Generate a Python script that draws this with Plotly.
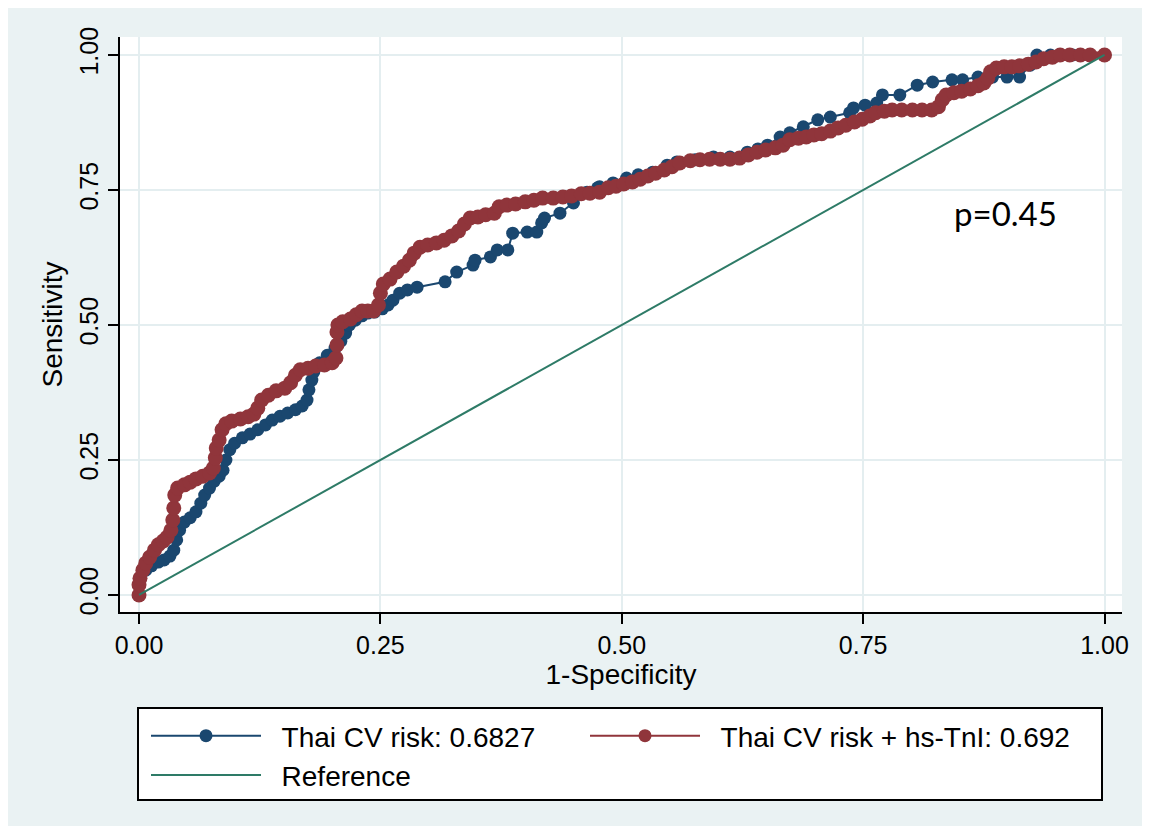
import plotly.graph_objects as go

# ---- data ----
fpr_thai = [0, 0.001, 0.007, 0.013, 0.020, 0.026, 0.032, 0.036, 0.039, 0.042,
            0.047, 0.053, 0.059, 0.064, 0.068, 0.073, 0.078, 0.083, 0.087, 0.090,
            0.094, 0.099, 0.107, 0.115, 0.123, 0.131, 0.138, 0.146, 0.154, 0.162,
            0.169, 0.174, 0.176, 0.179, 0.181, 0.187, 0.195, 0.203, 0.209, 0.214,
            0.218, 0.224, 0.231, 0.237, 0.244, 0.252, 0.258, 0.263, 0.270, 0.278,
            0.288, 0.317, 0.329, 0.346, 0.348, 0.364, 0.371, 0.382, 0.387, 0.402,
            0.412, 0.417, 0.420, 0.436, 0.450, 0.464, 0.475, 0.477, 0.491, 0.505,
            0.517, 0.532, 0.547, 0.557, 0.576, 0.595, 0.612, 0.630, 0.641, 0.651,
            0.664, 0.674, 0.688, 0.703, 0.716, 0.736, 0.740, 0.752, 0.764, 0.770,
            0.788, 0.806, 0.822, 0.842, 0.853, 0.869, 0.884, 0.899, 0.912, 0.923,
            0.930, 0.944, 0.955, 0.967, 0.985, 1.0]
tpr_thai = [0, 0.028, 0.046, 0.054, 0.061, 0.065, 0.072, 0.083, 0.102, 0.120,
            0.135, 0.143, 0.154, 0.170, 0.185, 0.198, 0.211, 0.220, 0.231, 0.250,
            0.269, 0.281, 0.291, 0.298, 0.306, 0.315, 0.324, 0.331, 0.337, 0.343,
            0.350, 0.361, 0.380, 0.398, 0.413, 0.430, 0.444, 0.457, 0.470, 0.485,
            0.500, 0.509, 0.517, 0.522, 0.524, 0.530, 0.537, 0.546, 0.559, 0.565,
            0.570, 0.580, 0.598, 0.611, 0.620, 0.626, 0.639, 0.639, 0.670, 0.672,
            0.672, 0.689, 0.698, 0.707, 0.726, 0.746, 0.754, 0.756, 0.763, 0.772,
            0.778, 0.783, 0.796, 0.802, 0.806, 0.811, 0.811, 0.820, 0.826, 0.833,
            0.848, 0.856, 0.867, 0.880, 0.885, 0.893, 0.902, 0.907, 0.911, 0.926,
            0.926, 0.944, 0.950, 0.954, 0.954, 0.959, 0.959, 0.959, 0.959, 0.981,
            1.0, 1.0, 1.0, 1.0, 1.0, 1.0]

fpr_combo = [0, 0, 0.001, 0.004, 0.007, 0.011, 0.016, 0.020, 0.025, 0.029,
             0.033, 0.035, 0.036, 0.037, 0.040, 0.047, 0.053, 0.059, 0.066, 0.073,
             0.077, 0.079, 0.080, 0.083, 0.086, 0.090, 0.096, 0.105, 0.113, 0.119,
             0.123, 0.127, 0.134, 0.142, 0.151, 0.157, 0.162, 0.167, 0.175, 0.183,
             0.192, 0.200, 0.204, 0.205, 0.205, 0.206, 0.211, 0.219, 0.225, 0.231,
             0.237, 0.243, 0.248, 0.250, 0.253, 0.260, 0.267, 0.274, 0.280, 0.285,
             0.291, 0.299, 0.308, 0.316, 0.324, 0.331, 0.337, 0.343, 0.351, 0.359,
             0.368, 0.373, 0.381, 0.390, 0.400, 0.409, 0.418, 0.429, 0.439, 0.448,
             0.458, 0.467, 0.477, 0.486, 0.494, 0.502, 0.511, 0.519, 0.527, 0.535,
             0.544, 0.552, 0.560, 0.571, 0.581, 0.591, 0.602, 0.612, 0.622, 0.631,
             0.640, 0.649, 0.659, 0.667, 0.674, 0.683, 0.691, 0.699, 0.707, 0.716,
             0.724, 0.732, 0.741, 0.749, 0.757, 0.763, 0.772, 0.780, 0.790, 0.801,
             0.811, 0.821, 0.828, 0.832, 0.836, 0.844, 0.852, 0.861, 0.869, 0.875,
             0.879, 0.882, 0.888, 0.896, 0.904, 0.912, 0.921, 0.929, 0.937, 0.946,
             0.954, 0.964, 0.975, 0.985, 1.0]
tpr_combo = [0, 0.019, 0.031, 0.046, 0.059, 0.070, 0.083, 0.093, 0.100, 0.107,
             0.120, 0.139, 0.161, 0.185, 0.198, 0.204, 0.209, 0.215, 0.220, 0.226,
             0.235, 0.254, 0.272, 0.287, 0.306, 0.317, 0.322, 0.326, 0.330, 0.335,
             0.346, 0.361, 0.370, 0.378, 0.383, 0.393, 0.407, 0.417, 0.420, 0.424,
             0.426, 0.430, 0.439, 0.463, 0.487, 0.500, 0.506, 0.511, 0.519, 0.526,
             0.526, 0.526, 0.537, 0.559, 0.576, 0.585, 0.598, 0.609, 0.620, 0.633,
             0.644, 0.648, 0.652, 0.657, 0.665, 0.674, 0.687, 0.698, 0.700, 0.704,
             0.707, 0.719, 0.722, 0.724, 0.728, 0.731, 0.735, 0.735, 0.737, 0.739,
             0.743, 0.744, 0.746, 0.754, 0.757, 0.761, 0.765, 0.770, 0.776, 0.781,
             0.787, 0.793, 0.800, 0.804, 0.806, 0.807, 0.807, 0.807, 0.809, 0.815,
             0.820, 0.824, 0.828, 0.833, 0.843, 0.846, 0.848, 0.852, 0.854, 0.859,
             0.865, 0.870, 0.876, 0.881, 0.887, 0.893, 0.896, 0.898, 0.898, 0.898,
             0.898, 0.898, 0.904, 0.917, 0.926, 0.930, 0.933, 0.937, 0.943, 0.948,
             0.957, 0.969, 0.976, 0.978, 0.978, 0.980, 0.983, 0.987, 0.993, 0.996,
             1.0, 1.0, 1.0, 1.0, 1.0]

ref_x = [0, 1]
ref_y = [0, 1]

tick_vals = [0, 0.25, 0.5, 0.75, 1.0]
tick_text = ["0.00", "0.25", "0.50", "0.75", "1.00"]
series_names = ["Thai CV risk: 0.6827", "Thai CV risk + hs-TnI: 0.692", "Reference"]
p_text = "p=0.45"
p_pos = (0.897, 0.707)

# ---- layout geometry (pixels) ----
W, H = 1152, 834
PL, PR, PT, PB = 120, 1122, 37, 612


def pxx(x):
    return (x - PL) / (PR - PL)


def pxy(y):
    return (PB - y) / (PB - PT)


NAVY = "#1A476F"
MAROON = "#90353B"
TEAL = "#2E7B67"
BG = "#EAF2F3"
GRID = "#E4EEF0"
FONT = "Liberation Sans, Arial, sans-serif"
PAD = "\u00a0\u00a0"

fig = go.Figure()
fig.add_trace(go.Scatter(
    x=fpr_thai, y=tpr_thai, mode="lines+markers", name=PAD + series_names[0],
    line=dict(color=NAVY, width=2),
    marker=dict(color=NAVY, size=13, symbol="circle", line=dict(width=0)),
    legend="legend",
))
fig.add_trace(go.Scatter(
    x=fpr_combo, y=tpr_combo, mode="lines+markers", name=series_names[1],
    line=dict(color=MAROON, width=7),
    marker=dict(color=MAROON, size=15, symbol="circle", line=dict(width=0)),
    showlegend=False,
))
# legend entry for the combined model (thin line + dot, as in the reference key)
fig.add_trace(go.Scatter(
    x=[None], y=[None], mode="lines+markers", name=PAD + series_names[1],
    line=dict(color=MAROON, width=2),
    marker=dict(color=MAROON, size=13, symbol="circle", line=dict(width=0)),
    legend="legend2",
))
fig.add_trace(go.Scatter(
    x=ref_x, y=ref_y, mode="lines", name=PAD + series_names[2],
    line=dict(color=TEAL, width=2),
    legend="legend",
))

shapes = [
    dict(type="rect", xref="paper", yref="paper", layer="below",
         x0=pxx(8), x1=pxx(1142), y0=pxy(826), y1=pxy(8),
         fillcolor=BG, line=dict(width=0)),
    dict(type="rect", xref="paper", yref="paper", layer="below",
         x0=0, x1=1, y0=0, y1=1, fillcolor="white", line=dict(width=0)),
    dict(type="rect", xref="paper", yref="paper", layer="below",
         x0=pxx(138), x1=pxx(1102), y0=pxy(800), y1=pxy(708),
         fillcolor="white", line=dict(color="black", width=2)),
]

leg_common = dict(
    orientation="v", y=pxy(711), xanchor="left", yanchor="top",
    bgcolor="rgba(0,0,0,0)", borderwidth=0, itemwidth=110,
    font=dict(family=FONT, size=28, color="black"),
    traceorder="normal", tracegroupgap=0,
)

fig.update_layout(
    width=W, height=H,
    margin=dict(l=PL, r=W - PR, t=PT, b=H - PB, pad=0),
    paper_bgcolor="white", plot_bgcolor="white",
    font=dict(family=FONT, size=25, color="black"),
    shapes=shapes,
    showlegend=True,
    legend=dict(x=pxx(146), **leg_common),
    legend2=dict(x=pxx(585), **leg_common),
    annotations=[dict(
        x=p_pos[0], y=p_pos[1], xref="x", yref="y", text=p_text, showarrow=False,
        font=dict(family="Lato, Open Sans, sans-serif", size=33, color="black"),
        xanchor="center", yanchor="middle",
    )],
)

fig.update_xaxes(
    range=[-0.0197, 1.0181], tickvals=tick_vals, ticktext=tick_text,
    showline=True, linecolor="black", linewidth=2, mirror=False,
    ticks="outside", ticklen=10, tickwidth=2, tickcolor="black",
    showgrid=True, gridcolor=GRID, gridwidth=2, zeroline=False,
    tickfont=dict(family=FONT, size=25),
    title=dict(text="1-Specificity", font=dict(family=FONT, size=28), standoff=6),
    automargin=False,
)
fig.update_yaxes(
    range=[-0.0315, 1.0333], tickvals=tick_vals, ticktext=tick_text, tickangle=-90,
    showline=True, linecolor="black", linewidth=2, mirror=False,
    ticks="outside", ticklen=10, tickwidth=2, tickcolor="black",
    showgrid=True, gridcolor=GRID, gridwidth=2, zeroline=False,
    tickfont=dict(family=FONT, size=25),
    title=dict(text="Sensitivity", font=dict(family=FONT, size=28), standoff=4),
    automargin=False,
)

fig.write_html("out.html")
